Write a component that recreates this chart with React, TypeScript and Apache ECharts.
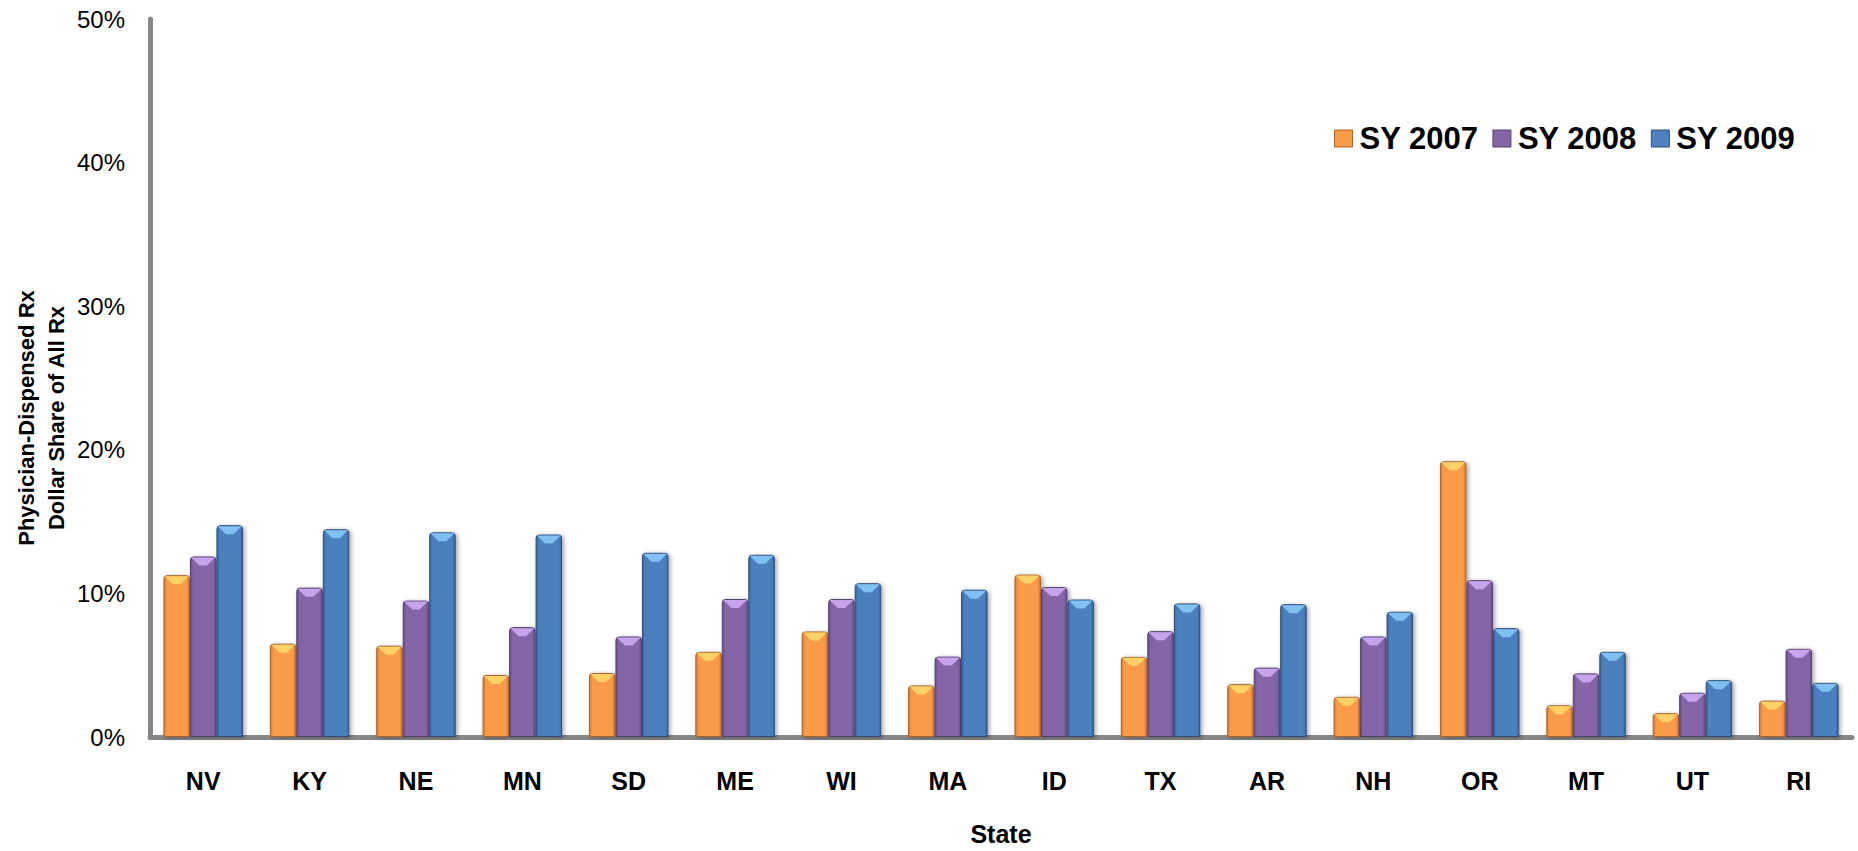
import React, { useEffect, useRef } from "react";
import * as echarts from "echarts";

const states = ["NV", "KY", "NE", "MN", "SD", "ME", "WI", "MA", "ID", "TX", "AR", "NH", "OR", "MT", "UT", "RI"];
const sy2007 = [11.27, 6.5, 6.36, 4.32, 4.46, 5.93, 7.35, 3.59, 11.31, 5.58, 3.68, 2.8, 19.2, 2.21, 1.66, 2.53];
const sy2008 = [12.57, 10.4, 9.5, 7.65, 7.0, 9.61, 9.61, 5.6, 10.44, 7.37, 4.83, 7.0, 10.92, 4.43, 3.08, 6.14];
const sy2009 = [14.75, 14.47, 14.25, 14.1, 12.83, 12.69, 10.71, 10.26, 9.57, 9.3, 9.25, 8.72, 7.58, 5.93, 3.96, 3.77];
const seriesNames = ["SY 2007", "SY 2008", "SY 2009"];
const yTicks = { min: 0, max: 50, interval: 10 };

const FONT = "'Liberation Sans', Arial, sans-serif";

// face colour, edge colour, bevel highlight
const palette = [
  { face: "#F99B48", edge: "#D87A2C", border: "#A8652E", cap: "#FFD76A" },
  { face: "#8466A6", edge: "#6A4E8C", border: "#55406E", cap: "#CDAAF3" },
  { face: "#4C80BF", edge: "#3A67A0", border: "#2F4F78", cap: "#86C6F7" },
];

function faceGradient(p: { face: string; edge: string }) {
  return new echarts.graphic.LinearGradient(0, 0, 1, 0, [
    { offset: 0, color: p.edge },
    { offset: 0.12, color: p.face },
    { offset: 0.88, color: p.face },
    { offset: 1, color: p.edge },
  ]);
}

export default function App() {
  const ref = useRef<HTMLDivElement>(null);

  useEffect(() => {
    document.body.style.margin = "0";
    if (!ref.current) return;
    const chart = echarts.init(ref.current, undefined, { renderer: "svg" });
    const values = [sy2007, sy2008, sy2009];

    const bars = values.map((data, i) => ({
      name: seriesNames[i],
      type: "bar",
      data,
      barWidth: 26.5,
      barGap: "0%",
      z: 2,
      itemStyle: {
        color: faceGradient(palette[i]),
        borderColor: palette[i].border,
        borderWidth: 1,
        borderRadius: [3, 3, 0, 0],
        shadowColor: "rgba(0,0,0,0.35)",
        shadowBlur: 4,
        shadowOffsetX: 2,
        shadowOffsetY: 1,
      },
    }));

    // bevelled highlight at the top of each bar
    const caps = values.map((data, i) => ({
      name: seriesNames[i] + " top",
      type: "pictorialBar",
      data,
      barWidth: 26.5,
      barGap: "0%",
      z: 3,
      symbol: "path://M0,0 L26,0 L17,8 L9,8 Z",
      symbolSize: [24, 8],
      symbolPosition: "end",
      symbolOffset: [0, 1],
      symbolRepeat: false,
      itemStyle: { color: palette[i].cap, opacity: 0.9 },
      silent: true,
    }));

    chart.setOption({
      animation: false,
      backgroundColor: "#ffffff",
      textStyle: { fontFamily: FONT },
      grid: { left: 150, right: 6, top: 19, bottom: 105 },
      legend: {
        data: seriesNames.map((n, i) => ({ name: n, itemStyle: { color: palette[i].face, borderColor: palette[i].border, borderWidth: 1 } })),
        left: 1329,
        top: 118,
        itemWidth: 18,
        itemHeight: 17,
        itemGap: 14,
        icon: "rect",
        textStyle: { fontSize: 31, fontWeight: "bold", color: "#000", fontFamily: FONT, padding: [0, 0, 0, 2] },
      },
      xAxis: {
        type: "category",
        data: states,
        name: "State",
        nameLocation: "middle",
        nameGap: 84,
        nameTextStyle: { fontSize: 25, fontWeight: "bold", color: "#000", fontFamily: FONT },
        axisLine: { lineStyle: { color: "#878787", width: 5 } },
        axisTick: { show: false },
        axisLabel: { fontSize: 25, fontWeight: "bold", color: "#000", margin: 31, fontFamily: FONT },
      },
      yAxis: {
        type: "value",
        min: yTicks.min,
        max: yTicks.max,
        interval: yTicks.interval,
        splitLine: { show: false },
        axisLine: { show: true, lineStyle: { color: "#878787", width: 5 } },
        axisTick: { show: false },
        axisLabel: { formatter: "{value}%", fontSize: 24, color: "#000", margin: 25, fontFamily: FONT },
      },
      graphic: [
        {
          type: "text",
          x: 41,
          y: 418,
          rotation: Math.PI / 2,
          style: {
            text: "Physician-Dispensed Rx\nDollar Share of All Rx",
            fontSize: 22,
            fontWeight: "bold",
            fontFamily: FONT,
            lineHeight: 30,
            fill: "#000",
            align: "center",
            verticalAlign: "middle",
          },
        },
      ],
      series: [...bars, ...caps],
    });

    return () => chart.dispose();
  }, []);

  return <div ref={ref} style={{ width: 1858, height: 851 }} />;
}
